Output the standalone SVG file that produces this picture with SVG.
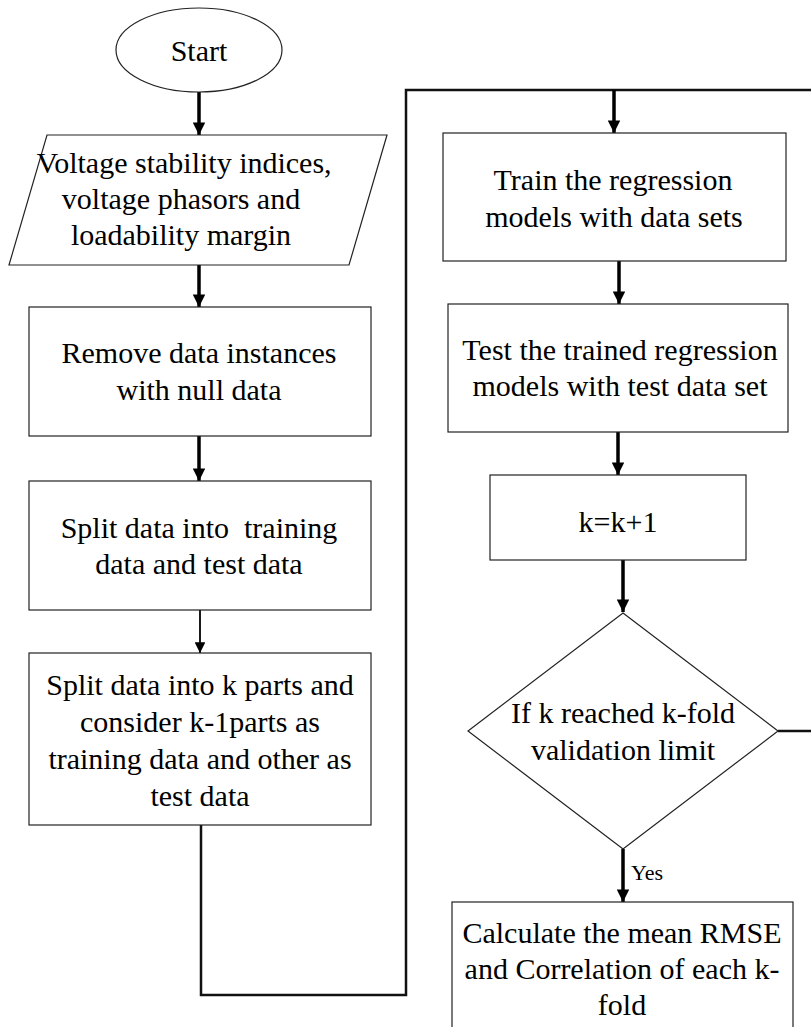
<svg xmlns="http://www.w3.org/2000/svg" width="811" height="1027" viewBox="0 0 811 1027" font-family="Liberation Serif, DejaVu Serif, serif">
  <style>
    .shape { fill: #ffffff; stroke: #222222; stroke-width: 1.2; }
    .txt { font-family: 'Liberation Serif', 'DejaVu Serif', serif; font-size: 30px; fill: #000000; text-anchor: middle; }
    .lbl { font-family: 'Liberation Serif', 'DejaVu Serif', serif; font-size: 22px; fill: #000000; }
    .thick { fill: none; stroke: #000000; stroke-width: 3.5; }
    .thin { fill: none; stroke: #000000; stroke-width: 1.8; }
    .loop { fill: none; stroke: #111111; stroke-width: 2.5; }
  </style>
  <defs>
    <marker id="head" viewBox="0 0 10 10" refX="10" refY="5" markerWidth="3.6" markerHeight="3.6" markerUnits="strokeWidth" orient="auto">
      <path d="M0,0 L10,5 L0,10 Z" fill="#000000"/>
    </marker>
    <marker id="headThin" viewBox="0 0 10 10" refX="10" refY="5" markerWidth="6" markerHeight="6" markerUnits="strokeWidth" orient="auto">
      <path d="M0,0 L10,5 L0,10 Z" fill="#000000"/>
    </marker>
  </defs>

  <rect width="811" height="1027" fill="#ffffff"/>

  <!-- connectors -->
  <g id="connectors">
    <line class="thick" x1="199" y1="92" x2="199" y2="135" marker-end="url(#head)"/>
    <line class="thick" x1="199" y1="265" x2="199" y2="307" marker-end="url(#head)"/>
    <line class="thick" x1="199" y1="436" x2="199" y2="481" marker-end="url(#head)"/>
    <line class="thin" x1="200" y1="610" x2="200" y2="653" marker-end="url(#headThin)"/>
    <!-- loop back from the k-part split to the training step -->
    <polyline class="loop" points="201,825 201,995 406,995 406,90 811,90"/>
    <line class="thick" x1="614" y1="90" x2="614" y2="133" marker-end="url(#head)"/>
    <line class="thick" x1="619" y1="261" x2="619" y2="304" marker-end="url(#head)"/>
    <line class="thick" x1="618" y1="432" x2="618" y2="475" marker-end="url(#head)"/>
    <line class="thick" x1="623" y1="560" x2="623" y2="612" marker-end="url(#head)"/>
    <line class="thick" x1="623" y1="849" x2="623" y2="902" marker-end="url(#head)"/>
    <line class="loop" x1="778" y1="731" x2="811" y2="731"/>
    <text class="lbl" x="631" y="880">Yes</text>
  </g>

  <g id="start">
    <ellipse class="shape" cx="199" cy="50" rx="83" ry="42"/>
    <text class="txt" x="199" y="61">Start</text>
  </g>

  <g id="input">
    <polygon class="shape" points="47,135 387,135 349,265 9,265"/>
    <text class="txt" x="184" y="173">Voltage stability indices,</text>
    <text class="txt" x="181" y="209">voltage phasors and</text>
    <text class="txt" x="181" y="245">loadability margin</text>
  </g>

  <g id="remove-null">
    <rect class="shape" x="29" y="307" width="342" height="129"/>
    <text class="txt" x="199" y="363">Remove data instances</text>
    <text class="txt" x="199" y="400">with null data</text>
  </g>

  <g id="split-train-test">
    <rect class="shape" x="29" y="481" width="342" height="129"/>
    <text class="txt" x="199" y="538" xml:space="preserve">Split data into  training</text>
    <text class="txt" x="199" y="574">data and test data</text>
  </g>

  <g id="split-k-parts">
    <rect class="shape" x="29" y="653" width="342" height="172"/>
    <text class="txt" x="200" y="695">Split data into k parts and</text>
    <text class="txt" x="200" y="732">consider k-1parts as</text>
    <text class="txt" x="200" y="769">training data and other as</text>
    <text class="txt" x="200" y="806">test data</text>
  </g>

  <g id="train">
    <rect class="shape" x="443" y="133" width="343" height="128"/>
    <text class="txt" x="613" y="190">Train the regression</text>
    <text class="txt" x="614" y="227">models with data sets</text>
  </g>

  <g id="test">
    <rect class="shape" x="448" y="304" width="340" height="128"/>
    <text class="txt" x="620" y="360">Test the trained regression</text>
    <text class="txt" x="620" y="396">models with test data set</text>
  </g>

  <g id="increment">
    <rect class="shape" x="490" y="475" width="256" height="85"/>
    <text class="txt" x="618" y="532">k=k+1</text>
  </g>

  <g id="check-limit">
    <polygon class="shape" points="623,613 778,731 623,849 468,731"/>
    <text class="txt" x="623" y="723">If k reached k-fold</text>
    <text class="txt" x="623" y="760">validation limit</text>
  </g>

  <g id="mean-rmse">
    <rect class="shape" x="452" y="902" width="341" height="140"/>
    <text class="txt" x="622" y="943">Calculate the mean RMSE</text>
    <text class="txt" x="622" y="979">and Correlation of each k-</text>
    <text class="txt" x="622" y="1015">fold</text>
  </g>
</svg>
